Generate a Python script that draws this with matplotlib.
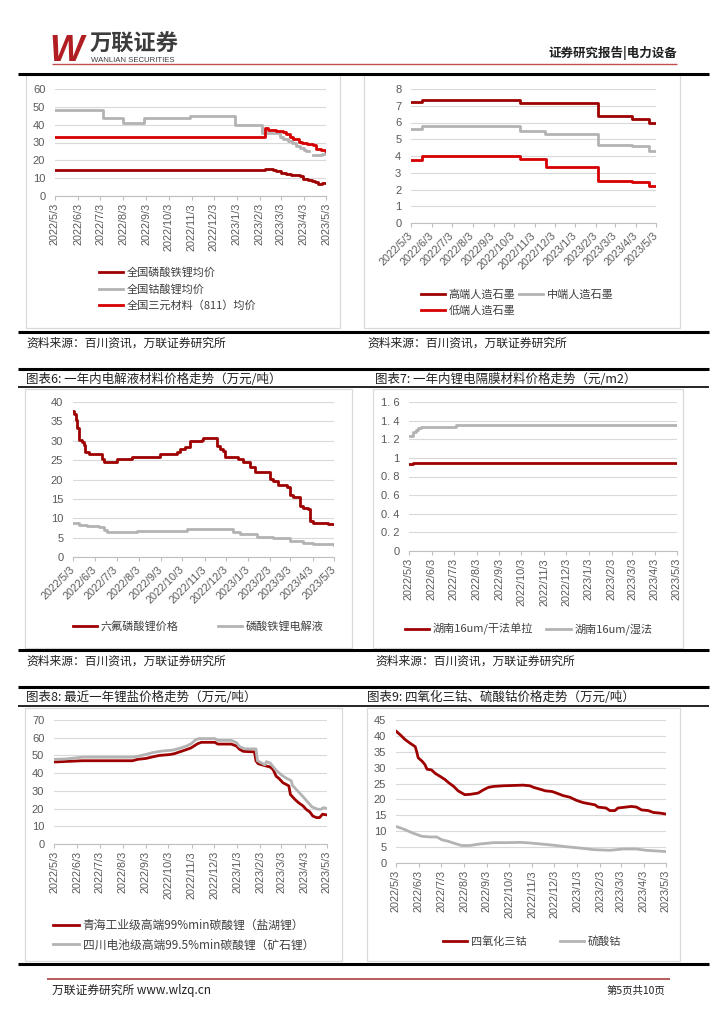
import matplotlib
matplotlib.use("Agg")
import matplotlib.pyplot as plt
from matplotlib.lines import Line2D
from matplotlib.patches import Rectangle
import numpy as np
import pandas as pd

plt.rcParams['font.family'] = ['Noto Sans CJK SC', 'DejaVu Sans']

W, H = 724, 1024
DARK_RED = '#9E0000'
RED = '#D60000'
GRAY = '#B3B3B3'
TICK_COLOR = '#595959'
NUM_FONT = ['Liberation Sans', 'DejaVu Sans']

month_ticks = ["2022/5/3", "2022/6/3", "2022/7/3", "2022/8/3", "2022/9/3", "2022/10/3",
               "2022/11/3", "2022/12/3", "2023/1/3", "2023/2/3", "2023/3/3", "2023/4/3",
               "2023/5/3"]

# ---- chart: cathode materials (万元/吨)
lfp_dates = ["2022-05-03", "2023-02-10", "2023-02-20", "2023-02-25", "2023-03-03", "2023-03-10",
             "2023-03-17", "2023-03-22", "2023-03-29", "2023-04-02", "2023-04-09", "2023-04-14",
             "2023-04-18", "2023-04-22", "2023-04-28", "2023-05-03"]
lfp_vals = [14.5, 15, 14.5, 14, 13, 12.5, 12, 11.5, 11, 9.5, 9, 8.5, 8, 7, 7.5, 7.2]
lco_dates = ["2022-05-03", "2022-07-07", "2022-08-02", "2022-08-31", "2022-11-01", "2022-12-31",
             "2023-02-06", "2023-03-02", "2023-03-06", "2023-03-13", "2023-03-18", "2023-03-24",
             "2023-03-29", "2023-04-03", "2023-04-06", "2023-04-10", "2023-04-16", "2023-04-28",
             "2023-05-01", "2023-05-03"]
lco_vals = [48.5, 44, 41, 44, 45, 40, 35.5, 33, 32, 31, 30, 28, 27, 26, 25.5, np.nan, 23, 23.5,
            24.5, 24.5]
ncm_dates = ["2022-05-03", "2023-02-10", "2023-02-14", "2023-02-24", "2023-03-06", "2023-03-10",
             "2023-03-15", "2023-03-20", "2023-03-27", "2023-04-01", "2023-04-08", "2023-04-15",
             "2023-04-19", "2023-04-26", "2023-05-03"]
ncm_vals = [33, 38, 37, 36.5, 36, 34.5, 33, 32, 30.5, 29.5, 29, 28.5, 26.5, 26, 25.5]

# ---- chart: graphite anodes
gr_dates_hi = ["2022-05-03", "2022-05-19", "2022-10-12", "2023-02-06", "2023-03-28", "2023-04-23",
               "2023-05-03"]
gr_hi = [7.25, 7.35, 7.15, 6.4, 6.2, 6.0, 6.0]
gr_dates_mid = ["2022-05-03", "2022-05-19", "2022-10-12", "2022-11-19", "2023-02-06",
                "2023-03-28", "2023-04-23", "2023-05-03"]
gr_mid = [5.6, 5.78, 5.5, 5.3, 4.68, 4.6, 4.3, 4.3]
gr_dates_lo = ["2022-05-03", "2022-05-19", "2022-10-12", "2022-11-20", "2023-02-06",
               "2023-03-28", "2023-04-23", "2023-05-03"]
gr_lo = [3.78, 4.0, 3.8, 3.35, 2.52, 2.42, 2.18, 2.18]

# ---- chart 6: electrolyte
lipf6_dates = ["2022-05-03", "2022-05-05", "2022-05-07", "2022-05-09", "2022-05-11", "2022-05-15",
               "2022-05-18", "2022-05-20", "2022-05-25", "2022-06-08", "2022-06-12", "2022-06-15",
               "2022-07-04", "2022-07-25", "2022-08-28", "2022-09-02", "2022-09-18", "2022-09-25",
               "2022-09-30", "2022-10-07", "2022-10-14", "2022-10-30", "2022-11-01", "2022-11-20",
               "2022-11-25", "2022-11-29", "2022-12-02", "2022-12-20", "2022-12-27", "2023-01-06",
               "2023-01-13", "2023-02-02", "2023-02-07", "2023-02-14", "2023-02-26", "2023-03-03",
               "2023-03-07", "2023-03-17", "2023-03-21", "2023-03-27", "2023-03-30", "2023-04-04",
               "2023-04-25", "2023-05-03"]
lipf6_vals = [37.8, 37, 35.3, 33.2, 30.2, 29.8, 28.9, 27.2, 26.7, 26.5, 25.4, 24.5, 25.2, 25.8,
              25.8, 26.5, 26.7, 27.2, 28, 28.3, 30, 30.2, 30.6, 28.6, 27.8, 27.4, 25.8, 25.2, 24.5,
              23.2, 22.0, 20.2, 19.5, 18.5, 18.0, 15.9, 15.6, 13.1, 12.6, 12.4, 9.4, 8.8, 8.4, 8.4]
elyte_dates = ["2022-05-03", "2022-05-11", "2022-05-22", "2022-06-08", "2022-06-15", "2022-06-19",
               "2022-07-31", "2022-09-30", "2022-10-09", "2022-11-29", "2022-12-13", "2022-12-23",
               "2023-01-15", "2023-02-07", "2023-03-03", "2023-03-21", "2023-04-04", "2023-05-03"]
elyte_vals = [8.7, 8.2, 7.9, 7.8, 6.9, 6.5, 6.7, 6.8, 7.1, 7.1, 6.5, 5.9, 5.2, 4.8, 4.2, 3.7, 3.3,
              3.0]

# ---- chart 7: separator (元/m2)
dry_dates = ["2022-05-03", "2022-05-09", "2023-05-03"]
dry_vals = [0.93, 0.95, 0.95]
wet_dates = ["2022-05-03", "2022-05-09", "2022-05-12", "2022-05-15", "2022-05-20", "2022-07-06",
             "2023-05-03"]
wet_vals = [1.23, 1.28, 1.30, 1.32, 1.335, 1.35, 1.35]
sep_ylabels = ["0", "0. 2", "0. 4", "0. 6", "0. 8", "1", "1. 2", "1. 4", "1. 6"]

# ---- chart 8: lithium salts
qh_dates = ["2022-05-03", "2022-06-10", "2022-08-16", "2022-08-23", "2022-09-03", "2022-09-12",
            "2022-09-21", "2022-10-05", "2022-10-11", "2022-10-18", "2022-10-25", "2022-11-02",
            "2022-11-11", "2022-11-16", "2022-12-04", "2022-12-08", "2022-12-26", "2023-01-02",
            "2023-01-06", "2023-01-11", "2023-01-26", "2023-01-28", "2023-01-31", "2023-02-11",
            "2023-02-16", "2023-02-20", "2023-02-24", "2023-02-28", "2023-03-05", "2023-03-09",
            "2023-03-13", "2023-03-15", "2023-03-21", "2023-03-26", "2023-04-01", "2023-04-05",
            "2023-04-10", "2023-04-14", "2023-04-19", "2023-04-23", "2023-04-27", "2023-05-03"]
qh_vals = [46.3, 47, 47, 47.8, 48.3, 49.2, 50, 50.5, 51, 52, 53, 54.2, 56.6, 57.4, 57.4, 56.4,
           56.4, 55.3, 53.5, 52.3, 52, 47, 45.3, 44, 43.5, 42, 38.3, 36.9, 34.6, 33.7, 32.8, 28,
           25.2, 23.3, 21.5, 19.6, 18.1, 15.8, 14.9, 14.9, 16.8, 16.4]
sc_dates = ["2022-05-03", "2022-05-19", "2022-06-10", "2022-08-16", "2022-08-25", "2022-09-03",
            "2022-09-12", "2022-09-25", "2022-10-09", "2022-10-18", "2022-10-27", "2022-11-02",
            "2022-11-09", "2022-11-13", "2022-12-04", "2022-12-08", "2022-12-26", "2023-01-02",
            "2023-01-06", "2023-01-13", "2023-01-28", "2023-01-30", "2023-02-09", "2023-02-11",
            "2023-02-16", "2023-02-24", "2023-03-03", "2023-03-09", "2023-03-16", "2023-03-18",
            "2023-03-25", "2023-04-01", "2023-04-08", "2023-04-13", "2023-04-21", "2023-04-25",
            "2023-04-28", "2023-05-03"]
sc_vals = [47.8, 48, 49, 49, 49.7, 50.6, 51.6, 52.5, 53, 54, 55.3, 56.5, 59, 59.5, 59.5, 58.5,
           58.5, 57.2, 55, 53.7, 53.7, 47, 44.7, 46.5, 45.7, 41.6, 39, 37.3, 35.8, 33, 29.8, 26.7,
           23.3, 20.9, 19.6, 19.6, 20.5, 20.1]

# ---- chart 9: cobalt
co3o4_dates = ["2022-05-03", "2022-05-09", "2022-05-15", "2022-05-22", "2022-05-29", "2022-05-31",
               "2022-06-02", "2022-06-07", "2022-06-11", "2022-06-14", "2022-06-20", "2022-06-25",
               "2022-07-02", "2022-07-08", "2022-07-13", "2022-07-20", "2022-07-26", "2022-08-04",
               "2022-08-11", "2022-08-22", "2022-08-29", "2022-09-05", "2022-09-12", "2022-09-25",
               "2022-10-09", "2022-10-22", "2022-10-31", "2022-11-05", "2022-11-14", "2022-11-21",
               "2022-11-30", "2022-12-06", "2022-12-15", "2022-12-24", "2023-01-02", "2023-01-11",
               "2023-01-20", "2023-01-27", "2023-01-31", "2023-02-11", "2023-02-16", "2023-02-23",
               "2023-02-27", "2023-03-10", "2023-03-17", "2023-03-24", "2023-03-31", "2023-04-09",
               "2023-04-16", "2023-04-25", "2023-05-03"]
co3o4_vals = [41.5, 40.3, 38.9, 37.7, 36.6, 35, 33.1, 32.1, 31, 29.5, 29.3, 28.2, 27.2, 26.3, 25.3,
              24.1, 22.7, 21.5, 21.6, 22, 23, 23.8, 24.1, 24.3, 24.4, 24.5, 24.3, 23.8, 23.2, 22.7,
              22.5, 22, 21.2, 20.7, 19.7, 19, 18.6, 18.3, 17.6, 17.3, 16.5, 16.5, 17.3, 17.6, 17.8,
              17.6, 16.7, 16.5, 15.9, 15.7, 15.4]
coso4_dates = ["2022-05-03", "2022-05-13", "2022-05-26", "2022-06-07", "2022-06-18", "2022-06-27",
               "2022-07-04", "2022-07-13", "2022-07-22", "2022-07-31", "2022-08-11", "2022-08-25",
               "2022-09-12", "2022-09-30", "2022-10-18", "2022-10-31", "2022-11-14", "2022-12-02",
               "2022-12-20", "2023-01-07", "2023-01-25", "2023-02-16", "2023-03-06", "2023-03-24",
               "2023-04-06", "2023-05-03"]
coso4_vals = [11.5, 10.7, 9.4, 8.4, 8.2, 8.2, 7.3, 6.8, 6.1, 5.5, 5.5, 6, 6.4, 6.4, 6.5, 6.3, 6,
              5.6, 5.1, 4.7, 4.2, 4, 4.4, 4.4, 4, 3.6]


def d(lst):
    return pd.to_datetime(lst, format="%Y-%m-%d")


fig = plt.figure(figsize=(W / 100, H / 100), dpi=100)


def fx(x):
    return x / W


def fy(y):
    return 1 - y / H


def hline(y, x0, x1, color='black', lw=2.0):
    fig.add_artist(Line2D([fx(x0), fx(x1)], [fy(y), fy(y)], transform=fig.transFigure,
                          color=color, lw=lw, solid_capstyle='butt'))


def box(x0, y0, x1, y1):
    fig.add_artist(Rectangle((fx(x0), fy(y1)), fx(x1) - fx(x0), fy(y0) - fy(y1),
                             transform=fig.transFigure, fill=False, ec='#D9D9D9', lw=0.9))


def make_ax(x0, y0, x1, y1, ymax, ystep, rot=90, ylabels=None):
    ax = fig.add_axes([fx(x0), fy(y1), fx(x1) - fx(x0), fy(y0) - fy(y1)])
    ticks = pd.to_datetime(month_ticks, format="%Y/%m/%d")
    ax.set_xlim(ticks[0], ticks[-1])
    ax.set_ylim(0, ymax)
    yt = np.arange(0, ymax + ystep / 2, ystep)
    ax.set_yticks(yt)
    if ylabels is None:
        ylabels = [f"{v:g}" for v in yt]
    ax.set_yticklabels(ylabels, fontsize=8, color=TICK_COLOR, family=NUM_FONT)
    ax.set_xticks(ticks)
    if rot == 90:
        ax.set_xticklabels(month_ticks, rotation=90, ha='center', va='top', fontsize=7.8,
                           color=TICK_COLOR, family=NUM_FONT)
    else:
        ax.set_xticklabels(month_ticks, rotation=45, ha='right', va='center',
                           rotation_mode='anchor', fontsize=7.8, color=TICK_COLOR,
                           family=NUM_FONT)
    for s in ['top', 'right', 'left']:
        ax.spines[s].set_visible(False)
    ax.spines['bottom'].set_color('#BFBFBF')
    ax.grid(axis='y', color='#D9D9D9', lw=0.8)
    ax.set_axisbelow(True)
    ax.tick_params(axis='y', length=0, pad=7)
    ax.tick_params(axis='x', length=3, color='#BFBFBF', pad=2 if rot == 90 else 5)
    ax.set_facecolor('none')
    return ax


def legend(ax, handles, labels, x, y, ncol=1, colsp=1.5, size=8):
    ax.legend(handles, labels, loc='upper left', bbox_to_anchor=(fx(x), fy(y)),
              bbox_transform=fig.transFigure, ncol=ncol, frameon=False, fontsize=size,
              handlelength=2.2, handletextpad=0.3, labelspacing=0.55, columnspacing=colsp,
              borderpad=0, borderaxespad=0, labelcolor='#404040')


# ---------------- header / footer ----------------
fig.text(fx(49), fy(61), "W", fontsize=26, fontweight='bold', style='italic', color='#B01E23',
         family=NUM_FONT, va='baseline')
fig.text(fx(90), fy(33), "万联证券", fontsize=16, fontweight='bold', color='#3C3C3C',
         va='top')
fig.text(fx(91), fy(62.5), "WANLIAN SECURITIES", fontsize=5.6, color='#3C3C3C',
         family=NUM_FONT, va='baseline')
fig.text(fx(677), fy(57), "证券研究报告|电力设备", fontsize=9, fontweight='bold',
         color='#202020', ha='right', va='baseline')
hline(63.8, 52, 677, color='#C0504D', lw=1.0)
hline(74, 18, 709, lw=2.2)

fig.text(fx(52), fy(994), "万联证券研究所 www.wlzq.cn", fontsize=8.5, color='#202020',
         va='baseline')
fig.text(fx(665), fy(994), "第5页共10页", fontsize=7.5, color='#202020', ha='right',
         va='baseline')
hline(979, 47, 670, color='#B0504D', lw=1.3)

# ---------------- section lines, titles, sources ----------------
hline(332, 18, 709, lw=2.2)
hline(369, 18, 709, lw=2.2)
hline(387, 18, 709, lw=1.2)
hline(650, 18, 709, lw=2.2)
hline(687, 18, 709, lw=2.2)
hline(706, 18, 709, lw=1.2)
hline(964, 18, 709, lw=2.2)

for sx, sy in [(26, 347), (367, 347), (26, 665), (375, 665)]:
    fig.text(fx(sx), fy(sy), "资料来源：百川资讯，万联证券研究所", fontsize=8.5, color='#202020',
             va='baseline')

fig.text(fx(26), fy(383), "图表6: 一年内电解液材料价格走势（万元/吨）", fontsize=9,
         color='#202020', va='baseline')
fig.text(fx(375), fy(383), "图表7: 一年内锂电隔膜材料价格走势（元/m2）", fontsize=9,
         color='#202020', va='baseline')
fig.text(fx(26), fy(701), "图表8: 最近一年锂盐价格走势（万元/吨）", fontsize=9,
         color='#202020', va='baseline')
fig.text(fx(367), fy(701), "图表9: 四氧化三钴、硫酸钴价格走势（万元/吨）", fontsize=9,
         color='#202020', va='baseline')

box(26, 75, 340, 328)
box(364, 75, 680, 328)
box(25, 389, 352, 648)
box(373, 389, 683, 648)
box(25, 708, 342, 961)
box(367, 708, 680, 961)

# ---------------- chart: cathode ----------------
ax1 = make_ax(55, 89, 326, 196, 60, 10, rot=90)
h1, = ax1.plot(d(lfp_dates), lfp_vals, drawstyle='steps-post', color=DARK_RED, lw=2)
h2, = ax1.plot(d(lco_dates), lco_vals, drawstyle='steps-post', color=GRAY, lw=2)
h3, = ax1.plot(d(ncm_dates), ncm_vals, drawstyle='steps-post', color=RED, lw=2)
legend(ax1, [h1, h2, h3], ["全国磷酸铁锂均价", "全国钴酸锂均价", "全国三元材料（811）均价"], 99, 267)

# ---------------- chart: graphite ----------------
ax2 = make_ax(411, 89, 656, 223, 8, 1, rot=45)
g1, = ax2.plot(d(gr_dates_hi), gr_hi, drawstyle='steps-post', color=DARK_RED, lw=2)
g2, = ax2.plot(d(gr_dates_mid), gr_mid, drawstyle='steps-post', color=GRAY, lw=2)
g3, = ax2.plot(d(gr_dates_lo), gr_lo, drawstyle='steps-post', color=RED, lw=2)
legend(ax2, [g1, g3, g2], ["高端人造石墨", "低端人造石墨", "中端人造石墨"], 421, 289, ncol=2,
       colsp=0.3)

# ---------------- chart 6: electrolyte ----------------
ax3 = make_ax(73, 402, 334, 557, 40, 5, rot=45)
e1, = ax3.plot(d(lipf6_dates), lipf6_vals, drawstyle='steps-post', color=DARK_RED, lw=2)
e2, = ax3.plot(d(elyte_dates), elyte_vals, drawstyle='steps-post', color=GRAY, lw=2)
legend(ax3, [e1, e2], ["六氟磷酸锂价格", "磷酸铁锂电解液"], 73, 621, ncol=2, colsp=3.5)

# ---------------- chart 7: separator ----------------
ax4 = make_ax(409, 402, 677, 551, 1.6, 0.2, rot=90, ylabels=sep_ylabels)
s1, = ax4.plot(d(dry_dates), dry_vals, drawstyle='steps-post', color=DARK_RED, lw=2)
s2, = ax4.plot(d(wet_dates), wet_vals, drawstyle='steps-post', color=GRAY, lw=2)
legend(ax4, [s1, s2], ["湖南16um/干法单拉", "湖南16um/湿法"], 405, 623, ncol=2, colsp=1.2)

# ---------------- chart 8: lithium salts ----------------
ax5 = make_ax(54, 720, 327, 844, 70, 10, rot=90)
l1, = ax5.plot(d(qh_dates), qh_vals, color=DARK_RED, lw=2)
l2, = ax5.plot(d(sc_dates), sc_vals, color=GRAY, lw=2)
legend(ax5, [l1, l2], ["青海工业级高端99%min碳酸锂（盐湖锂）", "四川电池级高端99.5%min碳酸锂（矿石锂）"],
       53, 919, size=8.5)

# ---------------- chart 9: cobalt ----------------
ax6 = make_ax(396, 720, 666, 863, 45, 5, rot=90)
c1, = ax6.plot(d(co3o4_dates), co3o4_vals, color=DARK_RED, lw=2)
c2, = ax6.plot(d(coso4_dates), coso4_vals, color=GRAY, lw=2)
legend(ax6, [c1, c2], ["四氧化三钴", "硫酸钴"], 443, 936, ncol=2, colsp=3.0)

fig.savefig("out.png", dpi=100)
